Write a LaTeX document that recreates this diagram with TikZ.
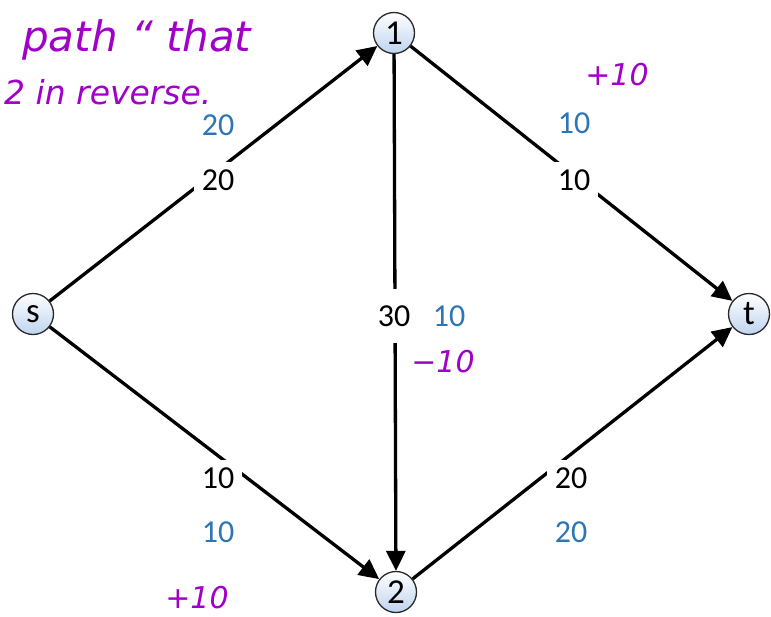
\documentclass[tikz,border=0pt]{standalone}
\usepackage{fontspec}
\setmainfont{Carlito}
\newfontfamily\handfont{DejaVu Sans}
\usetikzlibrary{arrows.meta}
\definecolor{flowblue}{RGB}{46,117,182}
\definecolor{inkpurple}{RGB}{160,0,200}
\definecolor{nodeedge}{RGB}{40,40,40}
\definecolor{nodefill}{RGB}{190,212,240}
\tikzset{
  vertex/.style={circle, draw=nodeedge, line width=1.3pt, minimum size=41pt, inner sep=0pt,
    top color=white, bottom color=nodefill, font=\fontsize{35}{36}\selectfont},
  edge/.style={line width=3.3pt, -{Triangle[length=20pt,width=19pt]}},
  caplabel/.style={fill=white, inner sep=8pt, font=\fontsize{32}{34}\selectfont, text=black},
  flowlabel/.style={inner sep=0pt, font=\fontsize{32}{34}\selectfont, text=flowblue},
  ink/.style={inner sep=0pt, text=inkpurple, font=\handfont\fontsize{30}{32}\selectfont\itshape},
}
\begin{document}
\begin{tikzpicture}[x=1pt,y=-1pt]
\useasboundingbox (0,0) rectangle (771,616);
% vertices
\node[vertex] (s) at (33,314) {s};
\node[vertex] (n1) at (394,33) {1};
\node[vertex] (n2) at (396,592) {2};
\node[vertex] (t) at (749,314) {t};
% edges
\draw[edge] (s) -- (n1);
\draw[edge] (n1) -- (t);
\draw[edge] (s) -- (n2);
\draw[edge] (n2) -- (t);
\draw[edge] (n1) -- (n2);
% capacity labels (cover the edges)
\node[caplabel] (c1) at (218,180) {20};
\node[caplabel] (c2) at (574,180) {10};
\node[caplabel] (c3) at (218,478) {10};
\node[caplabel] (c4) at (571,478) {20};
\node[caplabel, inner ysep=17pt, inner xsep=4pt] (c5) at (394,316) {30};
% flow labels
\node[flowlabel] (f1) at (218,125) {20};
\node[flowlabel] (f2) at (574,123) {10};
\node[flowlabel] (f3) at (218,532) {10};
\node[flowlabel] (f4) at (571,532) {20};
\node[flowlabel] (f5) at (449,316) {10};
% handwritten notes
\node[ink, anchor=west, font=\handfont\fontsize{42}{44}\selectfont\itshape] (h1) at (22,40) {path “ that};
\node[ink, anchor=west, font=\handfont\fontsize{33}{36}\selectfont\itshape] (h2) at (4,92) {2 in reverse.};
\node[ink] (h3) at (617,75) {+10};
\node[ink] (h4) at (443,362) {−10};
\node[ink] (h5) at (197,598) {+10};
\end{tikzpicture}
\end{document}
